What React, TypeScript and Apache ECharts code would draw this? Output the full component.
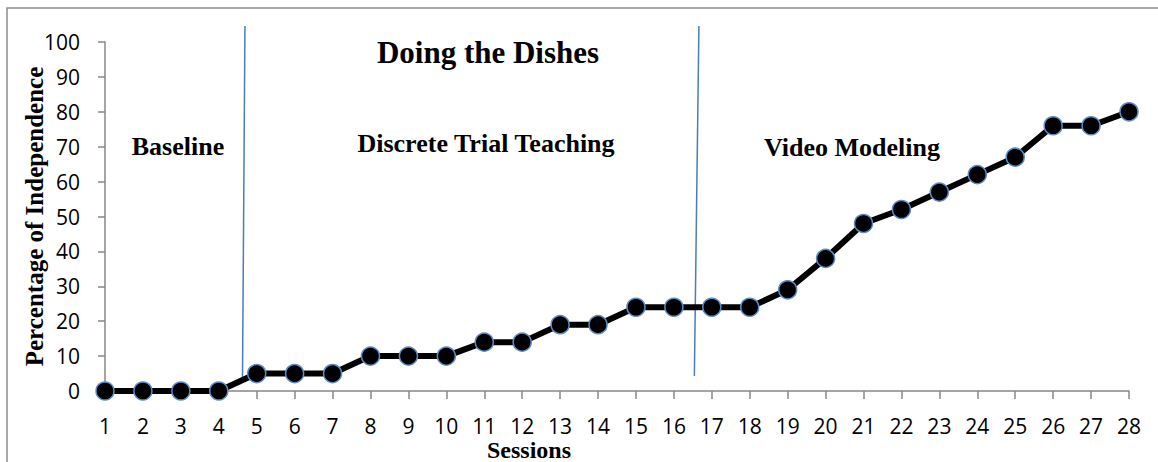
import React, { useEffect, useRef } from "react";
import * as echarts from "echarts";

const sessions: number[] = Array.from({ length: 28 }, (_, i) => i + 1);
const independence: number[] = [0, 0, 0, 0, 5, 5, 5, 10, 10, 10, 14, 14, 19, 19, 24, 24, 24, 24, 29, 38, 48, 52, 57, 62, 67, 76, 76, 80];
const phaseLine1: [number, number][] = [[4.69, 104.6], [4.625, 3.2]];
const phaseLine2: [number, number][] = [[16.66, 104.6], [16.54, 4.3]];
const yTicks = { min: 0, max: 100, interval: 10 };

export default function App() {
  const ref = useRef<HTMLDivElement>(null);
  useEffect(() => {
    if (!ref.current) return;
    const chart = echarts.init(ref.current, null, { renderer: "svg" });
    const serif = "'Liberation Serif', 'Times New Roman', serif";
    const sans = "'Open Sans', sans-serif";
    const axisGray = "#878787";
    chart.setOption({
      animation: false,
      backgroundColor: "#ffffff",
      grid: { left: 105, right: 29, top: 42, bottom: 71, containLabel: false },
      xAxis: {
        type: "value",
        min: 1,
        max: 28,
        interval: 1,
        axisLine: { show: true, onZero: false, lineStyle: { color: axisGray, width: 1.5 } },
        axisTick: { show: true, length: 8, lineStyle: { color: axisGray, width: 1.5 } },
        axisLabel: { color: "#000", fontFamily: sans, fontSize: 21, margin: 24 },
        splitLine: { show: false },
      },
      yAxis: {
        type: "value",
        min: yTicks.min,
        max: yTicks.max,
        interval: yTicks.interval,
        name: "Percentage of Independence",
        nameLocation: "middle",
        nameRotate: 90,
        nameGap: 58,
        nameMoveOverlap: false,
        nameTextStyle: { color: "#000", fontFamily: serif, fontWeight: "bold", fontSize: 25 },
        axisLine: { show: true, lineStyle: { color: axisGray, width: 1.5 } },
        axisTick: { show: true, length: 7, lineStyle: { color: axisGray, width: 1.5 } },
        axisLabel: { color: "#000", fontFamily: sans, fontSize: 21, margin: 25 },
        splitLine: { show: false },
      },
      series: [
        {
          type: "line",
          data: phaseLine1,
          symbol: "none",
          clip: false,
          lineStyle: { color: "#4a7ebb", width: 1.5 },
          z: 1,
        },
        {
          type: "line",
          data: phaseLine2,
          symbol: "none",
          clip: false,
          lineStyle: { color: "#4a7ebb", width: 1.5 },
          z: 1,
        },
        {
          type: "line",
          data: sessions.map((s, i) => [s, independence[i]]),
          symbol: "circle",
          symbolSize: 18,
          clip: false,
          lineStyle: { color: "#000", width: 6 },
          itemStyle: { color: "#000", borderColor: "#5b8ccc", borderWidth: 1.5 },
          z: 3,
        },
      ],
      graphic: [
        {
          type: "rect",
          shape: { x: 7, y: 8, width: 1300, height: 600 },
          style: { fill: "none", stroke: "#8c8c8c", lineWidth: 1.5 },
          silent: true,
        },
        {
          type: "text",
          x: 488, y: 52,
          style: { text: "Doing the Dishes", font: `bold 31px ${serif}`, fill: "#000", align: "center", verticalAlign: "middle" },
        },
        {
          type: "text",
          x: 178, y: 146,
          style: { text: "Baseline", font: `bold 26px ${serif}`, fill: "#000", align: "center", verticalAlign: "middle" },
        },
        {
          type: "text",
          x: 486, y: 143,
          style: { text: "Discrete Trial Teaching", font: `bold 26px ${serif}`, fill: "#000", align: "center", verticalAlign: "middle" },
        },
        {
          type: "text",
          x: 852, y: 147,
          style: { text: "Video Modeling", font: `bold 26px ${serif}`, fill: "#000", align: "center", verticalAlign: "middle" },
        },
        {
          type: "text",
          x: 529, y: 450,
          style: { text: "Sessions", font: `bold 24px ${serif}`, fill: "#000", align: "center", verticalAlign: "middle" },
        },
      ],
    });
    return () => chart.dispose();
  }, []);
  return (
    <div
      ref={ref}
      style={{ position: "absolute", left: 0, top: 0, width: 1158, height: 462 }}
    />
  );
}
